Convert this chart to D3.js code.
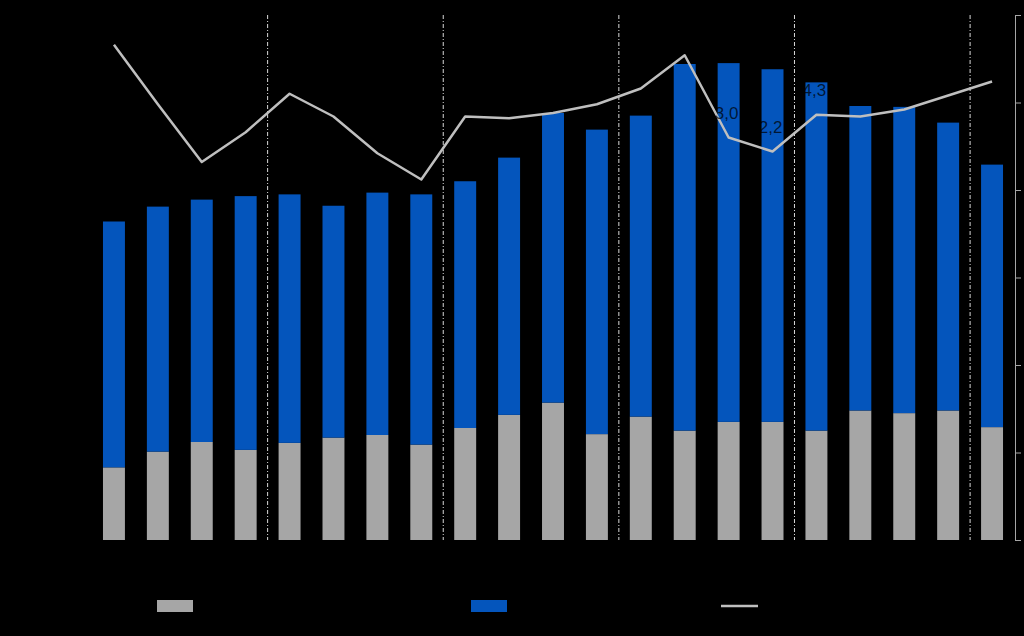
<!DOCTYPE html>
<html>
<head>
<meta charset="utf-8">
<script src="https://cdn.jsdelivr.net/npm/d3@7/dist/d3.min.js"></script>
<style>
  html, body { margin: 0; padding: 0; background: #000; }
  svg { display: block; font-family: "Liberation Sans", Arial, sans-serif; }
</style>
</head>
<body>
<svg id="chart" width="1024" height="636"></svg>
<script>
// ---- data ----
const categories = ["1. kv. 15","2. kv. 15","3. kv. 15","4. kv. 15",
                    "1. kv. 16","2. kv. 16","3. kv. 16","4. kv. 16",
                    "1. kv. 17","2. kv. 17","3. kv. 17","4. kv. 17",
                    "1. kv. 18","2. kv. 18","3. kv. 18","4. kv. 18",
                    "1. kv. 19","2. kv. 19","3. kv. 19","4. kv. 19",
                    "1. kv. 20"];
const greyValues = [83,101,112,103,111,117,120,109,128,143,157,121,141,125,135,135,125,148,145,148,129];
const blueValues = [281,280,277,290,284,265,277,286,282,294,331,348,344,419,410,403,398,348,350,329,300];
const lineValues = [8.3,4.9,1.6,3.3,5.5,4.2,2.1,0.6,4.2,4.1,4.4,4.9,5.8,7.7,3.0,2.2,4.3,4.2,4.6,5.4,6.2];
const barTicks = [0,100,200,300,400,500,600];
const lineTicks = [-20,-15,-10,-5,0,5,10];
const yearSeparatorsAfter = [3,7,11,15,19];
const legendLabels = ["Serie 1","Serie 2","Endring (%)"];

// ---- layout ----
const svg = d3.select("#chart");
const mLeft = 92, mRight = 1014, mTop = 15, mBottom = 540;

const x = d3.scaleBand().domain(d3.range(categories.length))
  .range([mLeft, mRight]).paddingInner(0.5).paddingOuter(0.25);
const yBar = d3.scaleLinear().domain([0, 600]).range([mBottom, mTop]);
const yLine = d3.scaleLinear().domain([-20, 10]).range([mBottom, mTop]);

const GREY = "#a6a6a6", BLUE = "#0455bc", LINE = "#bfbfbf";

// bars
const g = svg.append("g");
g.selectAll("rect.gbar").data(greyValues).join("rect").attr("class","gbar")
  .attr("x", (d,i) => x(i)).attr("width", x.bandwidth())
  .attr("y", d => yBar(d)).attr("height", d => yBar(0) - yBar(d))
  .attr("fill", GREY);
g.selectAll("rect.bbar").data(blueValues).join("rect").attr("class","bbar")
  .attr("x", (d,i) => x(i)).attr("width", x.bandwidth())
  .attr("y", (d,i) => yBar(d + greyValues[i]))
  .attr("height", (d,i) => yBar(greyValues[i]) - yBar(d + greyValues[i]))
  .attr("fill", BLUE);

// year separators
const cx = i => x(i) + x.bandwidth()/2;
svg.append("g").selectAll("line").data(yearSeparatorsAfter).join("line")
  .attr("x1", d => (cx(d) + cx(d+1))/2).attr("x2", d => (cx(d) + cx(d+1))/2)
  .attr("y1", mTop).attr("y2", mBottom)
  .attr("stroke", "#d9d9d9").attr("stroke-width", 1)
  .attr("stroke-dasharray", "4,2,1,2");

// line
const lineGen = d3.line().x((d,i) => cx(i)).y(d => yLine(d));
svg.append("path").datum(lineValues)
  .attr("d", lineGen).attr("fill", "none")
  .attr("stroke", LINE).attr("stroke-width", 2.5)
  .attr("stroke-linejoin", "round");

// line data labels (dark text)
svg.append("g").selectAll("text").data(lineValues).join("text")
  .attr("x", (d,i) => cx(i) - 2).attr("y", d => yLine(d) - 19)
  .attr("text-anchor", "middle").attr("font-size", 17)
  .attr("fill", "#000").attr("fill-opacity", 0.72)
  .text(d => d.toFixed(1).replace(".", ","));

// right axis (bars) – line and ticks only (labels fall outside the picture)
const axR = svg.append("g").attr("transform", `translate(${mRight+1},0)`)
  .call(d3.axisRight(yBar).tickValues(barTicks).tickSize(6).tickFormat(""));
axR.select(".domain").attr("stroke", "#a6a6a6");
axR.selectAll(".tick line").attr("stroke", "#a6a6a6");

// left axis (line) – text only
const axL = svg.append("g").attr("transform", `translate(${mLeft},0)`)
  .call(d3.axisLeft(yLine).tickValues(lineTicks).tickSize(0).tickPadding(8)
    .tickFormat(d => d.toString().replace("-", "\u2212")));
axL.select(".domain").remove();
axL.selectAll("text").attr("fill", "#000").attr("font-size", 13);

// x labels
const axB = svg.append("g").attr("transform", `translate(0,${mBottom})`)
  .call(d3.axisBottom(x).tickSize(0).tickPadding(10).tickFormat(i => categories[i]));
axB.select(".domain").remove();
axB.selectAll("text").attr("fill", "#000").attr("font-size", 11);

// legend
const lg = svg.append("g");
lg.append("rect").attr("x", 157).attr("y", 600).attr("width", 36).attr("height", 12).attr("fill", GREY);
lg.append("text").attr("x", 200).attr("y", 611).attr("font-size", 14).attr("fill", "#000").text(legendLabels[0]);
lg.append("rect").attr("x", 471).attr("y", 600).attr("width", 36).attr("height", 12).attr("fill", BLUE);
lg.append("text").attr("x", 514).attr("y", 611).attr("font-size", 14).attr("fill", "#000").text(legendLabels[1]);
lg.append("line").attr("x1", 721).attr("x2", 758).attr("y1", 606).attr("y2", 606)
  .attr("stroke", LINE).attr("stroke-width", 2.5);
lg.append("text").attr("x", 765).attr("y", 611).attr("font-size", 14).attr("fill", "#000").text(legendLabels[2]);
</script>
</body>
</html>
